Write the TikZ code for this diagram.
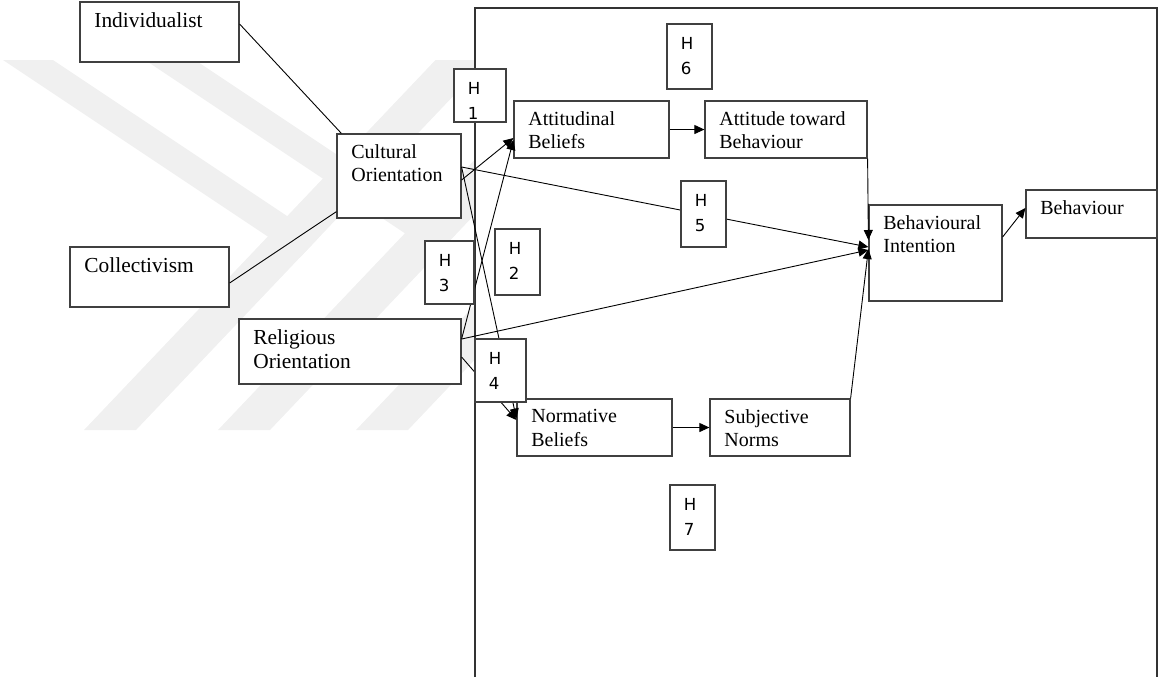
\documentclass[tikz,border=0pt]{standalone}
\usepackage{fontspec}
\setmainfont{Liberation Serif}
\newfontfamily\hypfont{DejaVu Sans}
\usetikzlibrary{arrows.meta}
\definecolor{wmark}{HTML}{F0F0F0}

\begin{document}
\begin{tikzpicture}[
  x=0.5pt, y=-0.5pt,
  cbox/.style={draw=black!75, line width=0.6pt, fill=white, inner sep=0pt},
  ctext/.style={anchor=north west, xshift=7.3pt, yshift=-5.4pt, inner sep=0pt, align=left, font=\fontsize{10}{11.7}\selectfont},
  bigtext/.style={ctext, font=\fontsize{10.7}{12}\selectfont},
  hbox/.style={draw=black!75, line width=0.6pt, fill=white, inner sep=0pt, minimum width=22.5pt},
  htext/.style={anchor=north west, xshift=7pt, yshift=-6.75pt, inner sep=0pt, align=left, font=\hypfont\fontsize{8.3}{12.5}\selectfont},
  link/.style={line width=0.45pt},
  arr/.style={-{Triangle[length=5pt,width=4.5pt]}, line width=0.45pt},
  band/.style={fill=wmark, draw=none},
  frame/.style={draw=black!80, line width=0.75pt}
]
\useasboundingbox (0,0) rectangle (1158,677);

% watermark
\foreach \a in {84,218,356}
  \fill[band] (\a,430) -- ({\a+52},430) -- ({\a+403.5},60) -- ({\a+351.5},60) -- cycle;
\fill[band] (3,60) -- (53,60) -- (319,237.3) -- (299.7,257.8) -- cycle;
\fill[band] (145,60) -- (195,60) -- (456,234) -- (436.7,254.5) -- cycle;

% frame
\fill[white] (475,8) rectangle (1157,677);
\draw[frame] (475,677) -- (475,8) -- (1157,8) -- (1157,677);

% constructs
\node[cbox, minimum width=79.5pt, minimum height=30pt, label={[bigtext]north west:Individualist}] (indiv) at (159.5,32) {};
\node[cbox, minimum width=79.5pt, minimum height=30pt, label={[bigtext]north west:Collectivism}] (coll) at (149.5,277) {};
\node[cbox, minimum width=62pt, minimum height=42pt, label={[ctext]north west:Cultural\\Orientation}] (cult) at (399,176) {};
\node[cbox, minimum width=111pt, minimum height=32.5pt, label={[bigtext]north west:Religious\\Orientation}] (relig) at (350,351.5) {};
\node[cbox, minimum width=77.5pt, minimum height=28.5pt, label={[ctext]north west:Attitudinal\\Beliefs}] (attb) at (591.5,129.5) {};
\node[cbox, minimum width=81pt, minimum height=28.5pt, label={[ctext]north west:Attitude toward\\Behaviour}] (atb) at (786,129.5) {};
\node[cbox, minimum width=77.5pt, minimum height=28.5pt, label={[ctext]north west:Normative\\Beliefs}] (normb) at (594.5,427.5) {};
\node[cbox, minimum width=70pt, minimum height=28.5pt, label={[ctext]north west:Subjective\\Norms}] (subn) at (780,427.5) {};
\node[cbox, minimum width=66.5pt, minimum height=48pt, label={[ctext]north west:Behavioural\\Intention}] (intent) at (935.5,253) {};
\node[cbox, minimum width=65.5pt, minimum height=24pt, label={[ctext]north west:Behaviour}] (behav) at (1091.5,214) {};

% paths
\draw[link] ([yshift=4pt]indiv.east) -- ([xshift=2.5pt]cult.north west);
\draw[link] ([yshift=-3pt]coll.east) -- ([yshift=3.5pt]cult.south west);
\draw[arr] ([yshift=-2pt]cult.east) -- ([yshift=-4.25pt]attb.west);
\draw[arr] ([yshift=4.5pt]cult.east) -- ([yshift=3pt]intent.west);
\draw[arr] ([yshift=4.5pt]cult.east) -- ([yshift=4.5pt]normb.west);
\draw[arr] ([yshift=6.25pt]relig.east) -- ([yshift=-5.25pt]attb.west);
\draw[arr] ([yshift=6.25pt]relig.east) -- ([yshift=1.5pt]intent.west);
\draw[arr] ([yshift=-2.75pt]relig.east) -- ([yshift=3.75pt]normb.west);
\draw[arr] (attb) -- (atb);
\draw[arr] (normb) -- (subn);
\draw[arr] (atb.south east) -- ([yshift=6.5pt]intent.west);
\draw[arr] (subn.north east) -- ([yshift=2pt]intent.west);
\draw[arr] ([yshift=8pt]intent.east) -- ([yshift=3pt]behav.west);

% hypotheses
\node[hbox, minimum width=26pt, minimum height=26.5pt, label={[htext]north west:H\\1}] (h1) at (480,95.5) {};
\node[hbox, minimum height=33pt, label={[htext]north west:H\\2}] (h2) at (517.5,262) {};
\node[hbox, minimum width=24.5pt, minimum height=31.5pt, label={[htext]north west:H\\3}] (h3) at (449.5,272.5) {};
\node[hbox, minimum width=25.5pt, minimum height=31.5pt, label={[htext]north west:H\\4}] (h4) at (500.5,370.5) {};
\node[hbox, minimum height=33pt, label={[htext]north west:H\\5}] (h5) at (703.5,214) {};
\node[hbox, minimum height=32.5pt, label={[htext]north west:H\\6}] (h6) at (689.5,56.5) {};
\node[hbox, minimum height=32.5pt, label={[htext]north west:H\\7}] (h7) at (692.5,517.5) {};
\end{tikzpicture}
\end{document}
